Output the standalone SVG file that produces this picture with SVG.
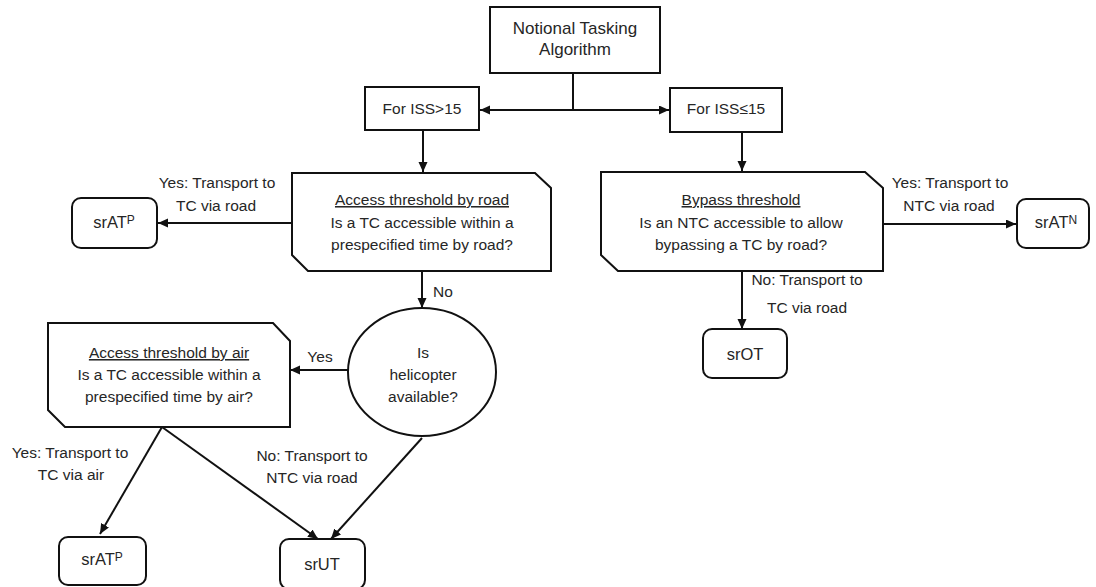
<svg xmlns="http://www.w3.org/2000/svg" width="1096" height="587" viewBox="0 0 1096 587">
  <style>
    .box { fill: #fff; stroke: #111; stroke-width: 2; }
    .term { fill: #fff; stroke: #111; stroke-width: 2; }
    .edge { fill: none; stroke: #111; stroke-width: 2; marker-end: url(#arrow); }
    .line { fill: none; stroke: #111; stroke-width: 2; }
    text { font-family: "Liberation Sans", Arial, sans-serif; font-size: 15.5px; fill: #262626; text-anchor: middle; }
    .title { font-size: 17px; }
    .ul { text-decoration: underline; }
    .term-label { font-size: 16.5px; }
    .sup { font-size: 12px; }
  </style>
  <defs>
    <marker id="arrow" markerUnits="userSpaceOnUse" markerWidth="11" markerHeight="10" refX="10" refY="4.5" orient="auto">
      <path d="M0,0 L10,4.5 L0,9 Z" fill="#111"/>
    </marker>
  </defs>

  <!-- connectors -->
  <g id="connectors">
    <path class="line" d="M573,73 V110"/>
    <path class="edge" d="M573,110 H480"/>
    <path class="edge" d="M573,110 H669"/>
    <path class="edge" d="M423,130 V172"/>
    <path class="edge" d="M742,132 V171"/>
    <path class="edge" d="M292,223 H158"/>
    <path class="edge" d="M883,224 H1016"/>
    <path class="edge" d="M422,271 V308"/>
    <path class="edge" d="M742,271 V329"/>
    <path class="edge" d="M348,370 H290"/>
    <path class="edge" d="M162,427 L100,534"/>
    <path class="edge" d="M162,427 L318,539"/>
    <path class="edge" d="M422,438 L331,539"/>
    <text x="217" y="188">Yes: Transport to</text>
    <text x="216" y="211">TC via road</text>
    <text x="950" y="188">Yes: Transport to</text>
    <text x="949" y="211">NTC via road</text>
    <text x="443" y="297">No</text>
    <text x="807" y="285">No: Transport to</text>
    <text x="807" y="313">TC via road</text>
    <text x="320" y="362">Yes</text>
    <text x="70" y="458">Yes: Transport to</text>
    <text x="71" y="480">TC via air</text>
    <text x="312" y="461">No: Transport to</text>
    <text x="312" y="483">NTC via road</text>
  </g>

  <g id="start">
    <rect class="box" x="490" y="7" width="170" height="66"/>
    <text class="title" x="575" y="34">Notional Tasking</text>
    <text class="title" x="575" y="55">Algorithm</text>
  </g>

  <g id="iss-high">
    <rect class="box" x="365" y="87" width="114" height="43"/>
    <text x="422" y="114">For ISS&gt;15</text>
  </g>

  <g id="iss-low">
    <rect class="box" x="670" y="88" width="112" height="44"/>
    <text x="726" y="114">For ISS≤15</text>
  </g>

  <g id="road-threshold">
    <path class="box" d="M292,173 H535 L551,188 V271 H308 L292,255 Z"/>
    <text class="ul" x="422" y="205">Access threshold by road</text>
    <text x="422" y="228">Is a TC accessible within a</text>
    <text x="422" y="250">prespecified time by road?</text>
  </g>

  <g id="bypass-threshold">
    <path class="box" d="M601,172 H865 L883,188 V271 H618 L601,255 Z"/>
    <text class="ul" x="741" y="205">Bypass threshold</text>
    <text x="741" y="228">Is an NTC accessible to allow</text>
    <text x="741" y="250">bypassing a TC by road?</text>
  </g>

  <g id="srATP-road">
    <rect class="term" x="72" y="198" width="85" height="50" rx="9"/>
    <text class="term-label" x="114" y="228">srAT<tspan class="sup" dy="-4">P</tspan></text>
  </g>

  <g id="srATN">
    <rect class="term" x="1017" y="199" width="72" height="49" rx="9"/>
    <text class="term-label" x="1056" y="228">srAT<tspan class="sup" dy="-4">N</tspan></text>
  </g>

  <g id="srOT">
    <rect class="term" x="703" y="329" width="84" height="49" rx="9"/>
    <text class="term-label" x="745" y="360">srOT</text>
  </g>

  <g id="helicopter">
    <ellipse class="box" cx="422" cy="372" rx="74" ry="64"/>
    <text x="423" y="358">Is</text>
    <text x="423" y="380">helicopter</text>
    <text x="423" y="402">available?</text>
  </g>

  <g id="air-threshold">
    <path class="box" d="M48,323 H273 L290,341 V427 H65 L48,410 Z"/>
    <text class="ul" x="169" y="358">Access threshold by air</text>
    <text x="169" y="380">Is a TC accessible within a</text>
    <text x="169" y="402">prespecified time by air?</text>
  </g>

  <g id="srATP-air">
    <rect class="term" x="59" y="537" width="87" height="48" rx="9"/>
    <text class="term-label" x="102" y="565">srAT<tspan class="sup" dy="-4">P</tspan></text>
  </g>

  <g id="srUT">
    <rect class="term" x="280" y="539" width="85" height="50" rx="9"/>
    <text class="term-label" x="322" y="570">srUT</text>
  </g>
</svg>
